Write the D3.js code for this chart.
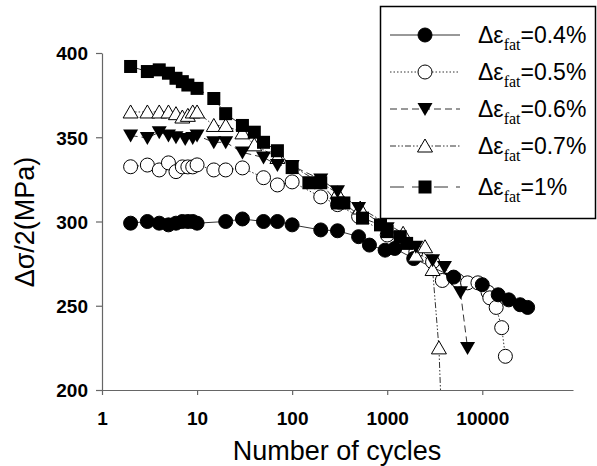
<!DOCTYPE html>
<html>
<head>
<meta charset="utf-8">
<script src="https://cdn.jsdelivr.net/npm/d3@7"></script>
<style>
  body { margin: 0; background: #fff; }
  svg { display: block; }
</style>
</head>
<body>
<div id="chart"></div>
<script>
// cycles / stress amplitude
const s04 = [[2,299],[3,300],[4,299],[5,298],[6,299],[7,300],[8,300],[9,300],[10,299],[20,300],[30,301.5],[50,300],[70,300],[100,298],
  [200,295],[300,294.5],[500,291],[650,286],[950,283],[1200,284],[1900,278],[5000,267],[10000,262.5],[14700,256.5],[19000,253.5],[25000,250.6],[30000,249]];
const s05 = [[2,332.5],[3,333.5],[4,330.6],[5,334.8],[6,329.6],[7,332.4],[8,332.4],[9,332.4],[10,333.6],[15,330.6],[20,330.6],[30,331.8],[50,326],[70,321.7],[100,323.5],
  [200,314.6],[300,310],[500,303],[1000,292],[2000,282],[3000,276],[3800,265],[5500,265],[7000,263.6],[9000,263.6],[11500,258],[12000,254.7],[14000,249],[16000,237],[17500,220]];
const s06 = [[2,351],[3,349.6],[4,353],[5,351],[6,350],[7.5,349],[9,349.6],[10,351],[15,347],[20,347],[30,341],[50,338],[70,333.6],[100,333],
  [200,325],[300,318],[500,308],[1000,296],[2000,285],[3000,277],[4000,273],[4800,266],[5900,258],[7000,225]];
const s07 = [[2,365],[3,365],[4,365],[5,365],[6,364],[7,362],[8,363],[9,365],[10,365],[15,357],[20,357],[30,352.6],[40,345.5],[70,338],
  [300,317],[520,308],[1470,293],[2000,280],[2500,285],[3000,271.5],[3500,225],[3800,170]];
const s10 = [[2,392],[3,389],[4,390],[5,388],[6,385],[7,383],[8,381],[10,379],[15,373],[20,364],[30,357],[40,353],[50,347],[70,342],[100,332],
  [150,323],[200,323],[300,311],[350,311],[550,302],[850,298],[1000,294],[1370,291],[1600,287]];

const seriesNames = ['0.4%', '0.5%', '0.6%', '0.7%', '1%'];
const seriesData = [s04, s05, s06, s07, s10];
const seriesMarker = ['circleFilled', 'circleOpen', 'triDown', 'triUp', 'square'];
const seriesDash = [null, '1.5,2', '7,4', '6,2,1.5,2,1.5,2', '14,8'];

const xTicks = [1, 10, 100, 1000, 10000];
const yTicks = [200, 250, 300, 350, 400];

const W = 597, H = 466;
const plot = { left: 102, right: 573, top: 53, bottom: 390 };
const sans = 'Liberation Sans, Arial, sans-serif';

const svg = d3.select('#chart').append('svg')
  .attr('width', W)
  .attr('height', H);

const x = d3.scaleLog()
  .domain([1, 90000])
  .range([plot.left, plot.right]);

const y = d3.scaleLinear()
  .domain([200, 400])
  .range([plot.bottom, plot.top]);

svg.append('defs').append('clipPath').attr('id', 'clip')
  .append('rect')
  .attr('x', plot.left).attr('y', 0)
  .attr('width', W - plot.left).attr('height', plot.bottom);

// axes
const xAxis = svg.append('g')
  .attr('transform', `translate(0,${plot.bottom})`)
  .call(d3.axisBottom(x).tickValues(xTicks).tickFormat(d3.format('d')).tickSize(5).tickSizeOuter(0).tickPadding(17));

const yAxis = svg.append('g')
  .attr('transform', `translate(${plot.left},0)`)
  .call(d3.axisLeft(y).tickValues(yTicks).tickSize(6).tickSizeOuter(0).tickPadding(8));

[xAxis, yAxis].forEach(g => {
  g.select('.domain').attr('stroke', '#666').attr('stroke-width', 1.2);
  g.selectAll('.tick line').attr('stroke', '#666').attr('stroke-width', 1.2);
  g.selectAll('.tick text')
    .attr('fill', '#000')
    .style('font-family', sans)
    .style('font-size', '19px')
    .style('font-weight', 'bold');
});
yAxis.selectAll('.tick text').attr('dy', '0.36em');

svg.append('text')
  .attr('x', 337).attr('y', 460)
  .attr('text-anchor', 'middle')
  .style('font-family', sans)
  .style('font-size', '27px')
  .text('Number of cycles');

svg.append('text')
  .attr('transform', 'translate(34,222) rotate(-90)')
  .attr('text-anchor', 'middle')
  .style('font-family', sans)
  .style('font-size', '27px')
  .text('Δσ/2(MPa)');

// marker drawing
function drawMarker(g, type, cx, cy) {
  const r = 7;
  if (type === 'circleFilled' || type === 'circleOpen') {
    g.append('circle')
      .attr('cx', cx).attr('cy', cy).attr('r', r)
      .attr('fill', type === 'circleFilled' ? '#000' : '#fff')
      .attr('stroke', '#000').attr('stroke-width', 1);
  } else if (type === 'square') {
    g.append('rect')
      .attr('x', cx - 6.5).attr('y', cy - 6.5)
      .attr('width', 13).attr('height', 13)
      .attr('fill', '#000');
  } else if (type === 'triDown') {
    g.append('path')
      .attr('d', `M${cx - 7.5},${cy - 6}L${cx + 7.5},${cy - 6}L${cx},${cy + 7}Z`)
      .attr('fill', '#000');
  } else if (type === 'triUp') {
    g.append('path')
      .attr('d', `M${cx - 7.5},${cy + 6}L${cx + 7.5},${cy + 6}L${cx},${cy - 7}Z`)
      .attr('fill', '#fff').attr('stroke', '#000').attr('stroke-width', 1);
  }
}

const line = d3.line()
  .x(d => x(d[0]))
  .y(d => y(d[1]));

const plotG = svg.append('g').attr('clip-path', 'url(#clip)');

seriesData.forEach((data, i) => {
  plotG.append('path')
    .datum(data)
    .attr('fill', 'none')
    .attr('stroke', '#333')
    .attr('stroke-width', 1)
    .attr('stroke-dasharray', seriesDash[i])
    .attr('d', line);
});

// markers drawn from the lowest-stress series up, so 1% sits on top
const order = [1, 0, 3, 2, 4];
order.forEach(i => {
  const g = plotG.append('g');
  seriesData[i].forEach(d => drawMarker(g, seriesMarker[i], x(d[0]), y(d[1])));
});

// legend
const legend = svg.append('g');
legend.append('rect')
  .attr('x', 380.5).attr('y', 6.5)
  .attr('width', 215).attr('height', 212)
  .attr('fill', '#fff')
  .attr('stroke', '#000')
  .attr('stroke-width', 1.5);

const rowY = [35, 72, 109, 146, 187];
seriesNames.forEach((name, i) => {
  const ly = rowY[i];
  legend.append('line')
    .attr('x1', 390).attr('x2', 460)
    .attr('y1', ly).attr('y2', ly)
    .attr('stroke', '#333')
    .attr('stroke-width', 1)
    .attr('stroke-dasharray', seriesDash[i]);
  drawMarker(legend, seriesMarker[i], 425, ly);
  const t = legend.append('text')
    .attr('x', 478).attr('y', ly + 8)
    .style('font-family', sans)
    .style('font-size', '23px');
  t.append('tspan').text('Δε');
  t.append('tspan')
    .attr('dy', 7)
    .style('font-family', 'Liberation Serif, Times New Roman, serif')
    .style('font-size', '16px')
    .text('fat');
  t.append('tspan')
    .attr('dy', -7)
    .text('=' + name);
});
</script>
</body>
</html>
